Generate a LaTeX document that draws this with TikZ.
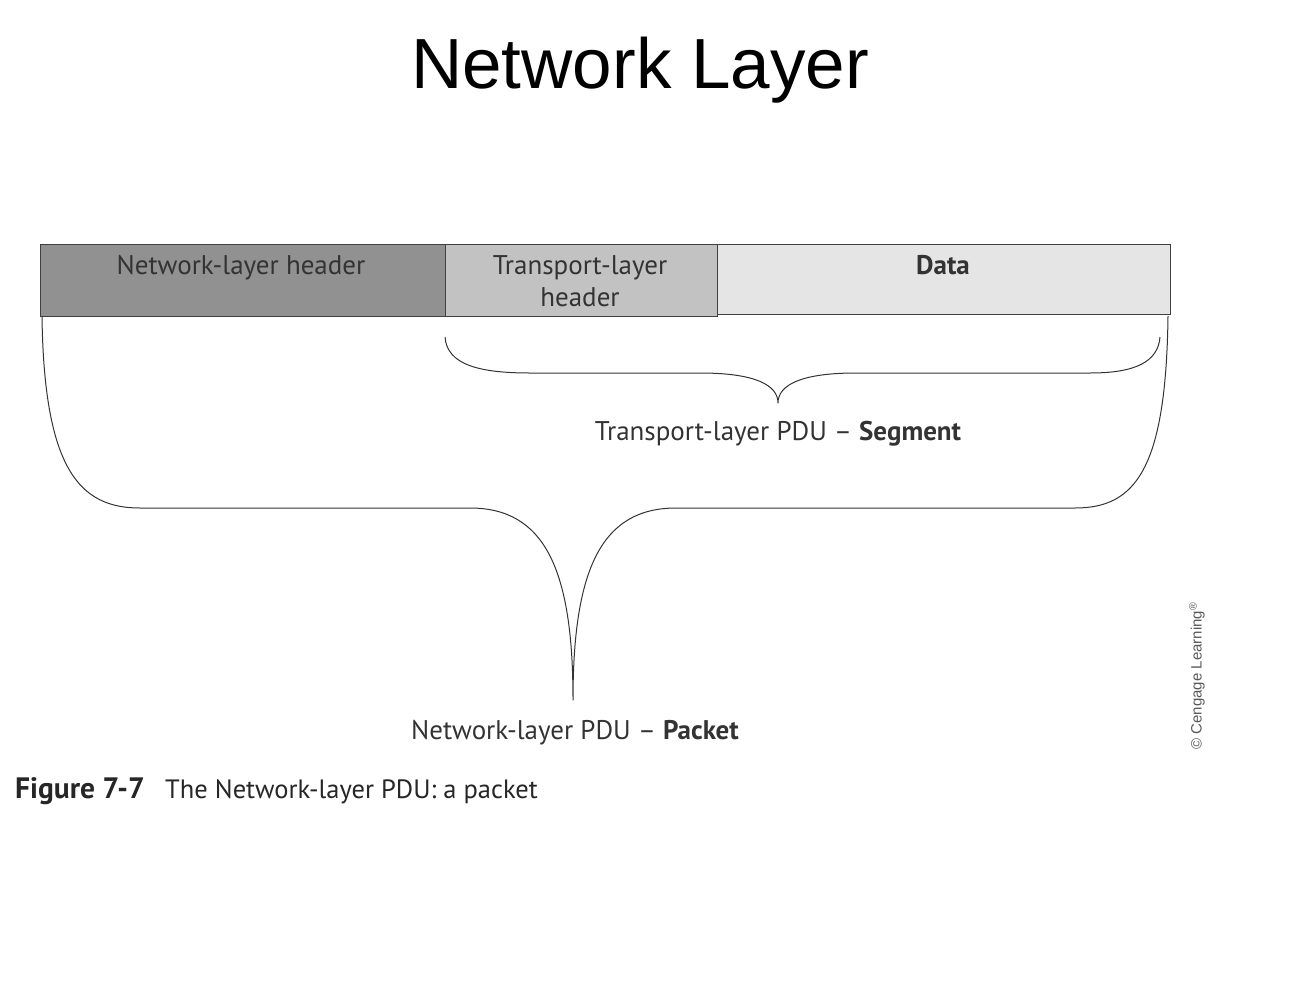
\documentclass[tikz,border=0pt]{standalone}
\usepackage{fontspec}
\setmainfont{PT Sans}
\newfontfamily\titlefont{Liberation Sans}
\begin{document}
\begin{tikzpicture}[x=1pt,y=-1pt,
  box/.style={draw=black!75,line width=1.4pt,inner sep=0pt,anchor=north west},
  lbl/.style={anchor=base,inner sep=0pt,text=black!80,font=\fontsize{27}{33}\selectfont},
  brace/.style={draw=black!80,line width=1pt,line join=round}]
\useasboundingbox (0,0) rectangle (1300,980);
\node[anchor=base,inner sep=0pt,font=\titlefont\fontsize{71}{80}\selectfont] (title) at (640,88) {Network Layer};
% boxes
\node[box,fill=black!43,minimum width=405pt,minimum height=72pt] (nh) at (40,244) {};
\node[box,fill=black!24,minimum width=272pt,minimum height=72pt] (th) at (445,244) {};
\node[box,fill=black!10,minimum width=453pt,minimum height=70pt] (dt) at (717,244) {};
\node[lbl] (nhl) at (241,274) {Network-layer header};
\node[lbl] (thl1) at (580,274) {Transport-layer};
\node[lbl] (thl2) at (580,306) {header};
\node[lbl,font=\fontsize{27}{33}\selectfont\bfseries] (dtl) at (943,274) {Data};
% segment brace
\coordinate (sL) at (445,337);
\coordinate (sT) at (778,403);
\coordinate (sR) at (1160,337);
\draw[brace] (sL) .. controls (447,365) and (480,373) .. (530,373) -- (700,373)
  .. controls (755,373) and (778,385) .. (sT)
  .. controls (778,385) and (801,373) .. (856,373) -- (1090,373)
  .. controls (1135,373) and (1158,362) .. (sR);
\node[lbl] (seg) at (778,440) {Transport-layer PDU -- \textbf{Segment}};
% packet brace
\coordinate (pL) at (42,316);
\coordinate (pT) at (573,700);
\coordinate (pR) at (1168,316);
\draw[brace] (pL) .. controls (44,470) and (80,508) .. (140,508) -- (470,508)
  .. controls (545,508) and (573,570) .. (pT)
  .. controls (573,570) and (601,508) .. (676,508) -- (1075,508)
  .. controls (1135,508) and (1166,470) .. (pR);
\node[lbl] (pkt) at (575,739) {Network-layer PDU -- \textbf{Packet}};
% caption
\node[anchor=base west,inner sep=0pt,font=\fontsize{29.5}{34}\selectfont\bfseries,text=black!85] (fig) at (15,798) {Figure 7-7};
\node[anchor=base west,inner sep=0pt,font=\fontsize{26.5}{32}\selectfont,text=black!85] (cap) at (165,798) {The Network-layer PDU: a packet};
% copyright
\node[rotate=90,inner sep=0pt,text=black!65,font=\titlefont\fontsize{15}{17}\selectfont] (copy) at (1197,676) {\textcopyright\ Cengage Learning\textsuperscript{\textregistered}};
\end{tikzpicture}
\end{document}
